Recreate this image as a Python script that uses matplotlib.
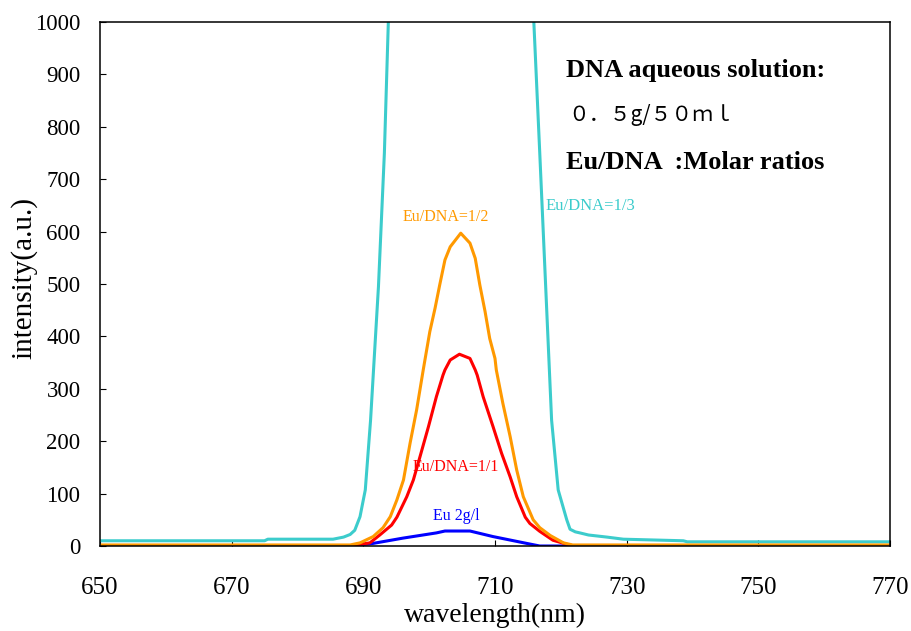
import numpy as np
import matplotlib
matplotlib.use('Agg')
import matplotlib.pyplot as plt

plt.rcParams['font.family'] = ['Liberation Serif', 'DejaVu Serif']

# Eu/DNA=1/3 (goes off scale at the top)
wl_13 = [650, 675, 675.5, 685.4, 687, 688, 688.7, 689.5, 690.3, 691.1, 692.3, 693.2, 693.8, 695,
         705, 715, 715.9, 716.8, 717.7, 718.6, 719.6, 720.9, 721.4, 722.2, 722.9, 724.2, 727,
         729.5, 738.6, 739.2, 770]
int_13 = [10, 10, 13, 13, 17, 22, 30, 56, 107, 240, 495, 750, 1000, 1400,
          1900, 1400, 1000, 750, 495, 240, 107, 50, 32, 27, 25, 21, 17,
          13, 10, 8, 8]

# Eu/DNA=1/2
wl_12 = [650, 688, 689.5, 691.5, 693.0, 694.1, 695.1, 696.1, 697.1, 698.1, 699.1, 699.4, 700.1,
         700.9, 701.6, 702.4, 703.2, 704.8, 706.2, 707.0, 707.7, 708.5, 709.2, 710.0, 710.2,
         711.2, 712.3, 713.3, 714.3, 715.8, 716.8, 718.4, 720.4, 721.8, 770]
int_12 = [2, 2, 6, 18, 35, 56, 88, 126, 196, 260, 336, 358, 409,
          454, 498, 546, 571, 597, 578, 549, 498, 447, 396, 358, 336,
          272, 209, 145, 94, 50, 35, 20, 6, 2, 2]

# Eu/DNA=1/1
wl_11 = [688, 691.0, 692.5, 694.3, 695.1, 696.6, 697.6, 698.6, 699.9, 701.1, 702.1, 702.4, 703.2,
         704.6, 706.2, 707.0, 707.3, 708.2, 709.7, 711.0, 712.3, 713.3, 714.6, 715.3, 716.8,
         718.8, 721.0, 722]
int_11 = [0, 6, 21, 40, 55, 94, 126, 170, 228, 285, 326, 336, 355,
          366, 358, 336, 326, 285, 228, 177, 132, 94, 55, 43, 28,
          11, 3, 0]

# Eu 2g/l
wl_eu = [688, 691.5, 696.0, 701.1, 702.4, 706.2, 709.7, 714.8, 716.8, 721]
int_eu = [0, 5, 15, 25, 28.6, 28.6, 18, 5, 0, 0]

xticks = [650, 670, 690, 710, 730, 750, 770]
yticks = [0, 100, 200, 300, 400, 500, 600, 700, 800, 900, 1000]

fig = plt.figure(figsize=(9.12, 6.31), dpi=100)
ax = fig.add_axes([0.1096, 0.1347, 0.8663, 0.8304])

lw = 2.2
ax.plot(wl_13, int_13, color='#3ccccc', lw=lw)
ax.plot(wl_eu, int_eu, color='#0000ff', lw=lw)
ax.plot(wl_11, int_11, color='#ff0000', lw=lw)
ax.plot(wl_12, int_12, color='#ff9900', lw=lw)

ax.set_xlim(650, 770)
ax.set_ylim(0, 1000)
ax.set_xticks(xticks)
ax.set_yticks(yticks)
ax.tick_params(axis='x', direction='in', length=4, labelsize=18, pad=22)
ax.tick_params(axis='y', direction='in', length=4, labelsize=16.5, pad=14)
for s in ax.spines.values():
    s.set_linewidth(1.1)

ax.set_xlabel('wavelength(nm)', fontsize=20, labelpad=3)
ax.set_ylabel('intensity(a.u.)', fontsize=21)
ax.yaxis.set_label_coords(-0.0785, 0.511)

ax.text(702.6, 628, 'Eu/DNA=1/2', color='#ff9900', fontsize=11.5, ha='center', va='center')
ax.text(717.6, 649, 'Eu/DNA=1/3', color='#3ccccc', fontsize=12, ha='left', va='center')
ax.text(704.1, 151, 'Eu/DNA=1/1', color='#ff0000', fontsize=11.5, ha='center', va='center')
ax.text(704.2, 57, 'Eu 2g/l', color='#0000ff', fontsize=11.5, ha='center', va='center')

ax.text(720.8, 908, 'DNA aqueous solution:', fontsize=19, fontweight='bold', va='center')
ax.text(721.1, 823, '０．５g/５０ｍｌ', fontsize=15, va='center',
        family=['Noto Sans CJK JP', 'DejaVu Sans'])
ax.text(720.8, 731, 'Eu/DNA  :Molar ratios', fontsize=19, fontweight='bold', va='center')

fig.savefig('out.png', dpi=100)
